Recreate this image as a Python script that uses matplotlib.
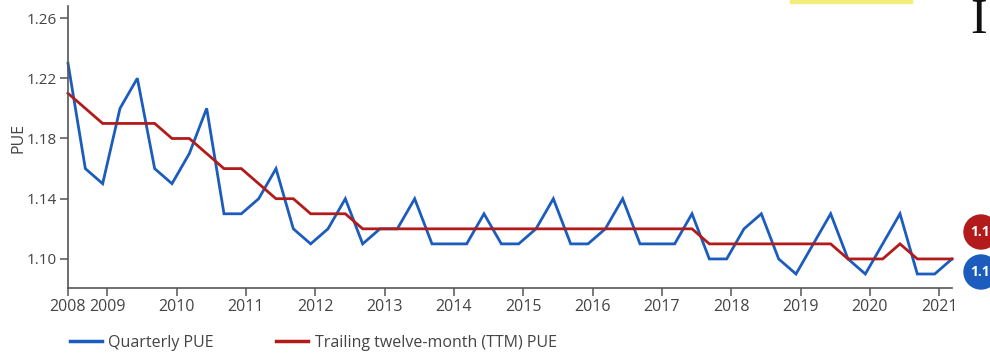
import numpy as np
import matplotlib.pyplot as plt
from matplotlib.lines import Line2D
from matplotlib.patches import Circle, Rectangle

plt.rcParams['font.family'] = ['Open Sans', 'DejaVu Sans']

# Quarterly PUE, Q3 2008 .. Q2 2021
quarterly = [1.23, 1.16, 1.15, 1.20, 1.22, 1.16, 1.15, 1.17, 1.20, 1.13,
             1.13, 1.14, 1.16, 1.12, 1.11, 1.12, 1.14, 1.11, 1.12, 1.12,
             1.14, 1.11, 1.11, 1.11, 1.13, 1.11, 1.11, 1.12, 1.14, 1.11,
             1.11, 1.12, 1.14, 1.11, 1.11, 1.11, 1.13, 1.10, 1.10, 1.12,
             1.13, 1.10, 1.09, 1.11, 1.13, 1.10, 1.09, 1.11, 1.13, 1.09,
             1.09, 1.10]
# Trailing twelve-month PUE
ttm = [1.21, 1.20, 1.19, 1.19, 1.19, 1.19, 1.18, 1.18, 1.17, 1.16,
       1.16, 1.15, 1.14, 1.14, 1.13, 1.13, 1.13, 1.12, 1.12, 1.12,
       1.12, 1.12, 1.12, 1.12, 1.12, 1.12, 1.12, 1.12, 1.12, 1.12,
       1.12, 1.12, 1.12, 1.12, 1.12, 1.12, 1.12, 1.11, 1.11, 1.11,
       1.11, 1.11, 1.11, 1.11, 1.11, 1.10, 1.10, 1.10, 1.11, 1.10,
       1.10, 1.10]
year_labels = [str(y) for y in range(2008, 2022)]
y_ticks = [1.10, 1.14, 1.18, 1.22, 1.26]

start = 2008.435
t = start + 0.25 * np.arange(len(quarterly))

BLUE = '#1c5cbc'
RED = '#b31b1b'
GREY = '#555555'
TXT = '#444444'
FS = 11.5

fig = plt.figure(figsize=(9.9, 3.53), dpi=100)
W, H = 990, 353
ax = fig.add_axes([68 / W, 1 - 288 / H, (952 - 68) / W, (288 - 6) / H])

ax.plot(t, quarterly, color=BLUE, lw=2.0, solid_joinstyle='miter', clip_on=False)
ax.plot(t, ttm, color=RED, lw=2.0, solid_joinstyle='miter', clip_on=False)

ax.set_xlim(t[0], t[-1])
ax.set_ylim(1.0807, 1.268)
ax.set_yticks(y_ticks)
ax.set_yticklabels([f'{v:.2f}' for v in y_ticks])
ax.set_xticks([start] + list(range(2009, 2022)))
ax.set_xticklabels(year_labels)
ax.set_ylabel('PUE', fontsize=FS, color=TXT)
ax.yaxis.set_label_coords(-42 / 884, 150 / 282)

for s in ('top', 'right'):
    ax.spines[s].set_visible(False)
for s in ('left', 'bottom'):
    ax.spines[s].set_color(GREY)
    ax.spines[s].set_linewidth(1.2)
ax.tick_params(colors=GREY, labelcolor=TXT, labelsize=FS, length=6, width=1.1, pad=2)
ax.tick_params(axis='y', labelsize=11)

# legend under the plot
handles = [Line2D([], [], color=BLUE, lw=2.5), Line2D([], [], color=RED, lw=2.5)]
fig.legend(handles, ['Quarterly PUE', 'Trailing twelve-month (TTM) PUE'],
           loc='center left', bbox_to_anchor=(70 / W, 1 - 343 / H), ncol=2,
           frameon=False, fontsize=FS, handlelength=2.0, handletextpad=0.4,
           columnspacing=3.9, borderpad=0, borderaxespad=0, labelcolor=TXT)

# end-of-line value badges
for val, col, cy in [(ttm[-1], RED, 232), (quarterly[-1], BLUE, 272)]:
    fig.add_artist(Circle((9.81, (H - cy) / 100), 0.17, color=col,
                          transform=fig.dpi_scale_trans))
    fig.text(984 / W, 1 - cy / H, f'{val:.2f}', color='white', fontsize=10,
             fontweight='bold', ha='center', va='center')

# page bits around the chart
fig.add_artist(Rectangle((790 / W, 1 - 3 / H), 122 / W, 3 / H, color='#f3ee7c',
                         transform=fig.transFigure))
fig.text(970 / W, 1 - 33 / H, 'I', family='Liberation Serif', fontsize=36,
         color='#111111', va='baseline', ha='left')

fig.savefig('out.png', dpi=100)
